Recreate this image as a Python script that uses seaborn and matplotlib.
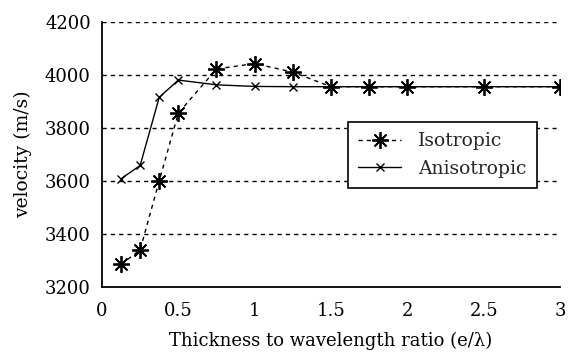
import matplotlib
matplotlib.use("Agg")
import matplotlib.pyplot as plt
import seaborn as sns
import pandas as pd

ratio = [0.125, 0.25, 0.375, 0.5, 0.75, 1.0, 1.25, 1.5, 1.75, 2.0, 2.5, 3.0]
isotropic = [3285, 3340, 3600, 3855, 4022, 4042, 4010, 3955, 3955, 3955, 3955, 3955]
anisotropic = [3608, 3658, 3915, 3980, 3962, 3956, 3955, 3955, 3955, 3955, 3955, 3955]
xticks = [0, 0.5, 1, 1.5, 2, 2.5, 3]
xticklabels = ["0", "0.5", "1", "1.5", "2", "2.5", "3"]
yticks = [3200, 3400, 3600, 3800, 4000, 4200]

sns.set_theme(style="white")
plt.rcParams['font.family'] = ['DejaVu Serif', 'Liberation Serif']

df = pd.DataFrame({"ratio": ratio + ratio,
                   "velocity": isotropic + anisotropic,
                   "series": ["Isotropic"] * len(ratio) + ["Anisotropic"] * len(ratio)})

fig = plt.figure(figsize=(5.71, 3.54), dpi=100)
ax = fig.add_axes([0.1786, 0.1893, 0.8021, 0.7494])

sns.lineplot(data=df[df.series == "Isotropic"], x="ratio", y="velocity", ax=ax,
             color="black", linewidth=1.0, linestyle=(0, (3, 3)),
             marker=(8, 2, 0), markersize=12, markeredgewidth=1.3,
             markeredgecolor="black", label="Isotropic")
sns.lineplot(data=df[df.series == "Anisotropic"], x="ratio", y="velocity", ax=ax,
             color="black", linewidth=1.0, linestyle="-",
             marker="x", markersize=6, markeredgewidth=1.0,
             markeredgecolor="black", label="Anisotropic")

ax.set_xlim(0, 3)
ax.set_ylim(3200, 4200)
ax.set_xticks(xticks)
ax.set_xticklabels(xticklabels)
ax.set_yticks(yticks)
for y in yticks[1:]:
    ax.axhline(y, color="black", linestyle=(0, (3, 3)), linewidth=1.0, zorder=0)

for s in ["top", "right"]:
    ax.spines[s].set_visible(False)
for s in ["left", "bottom"]:
    ax.spines[s].set_color("black")
    ax.spines[s].set_linewidth(1.3)
ax.tick_params(direction="in", length=5, width=1.2, colors="black",
               labelsize=13, pad=8)
ax.tick_params(axis="x", pad=11)

ax.set_xlabel("Thickness to wavelength ratio (e/λ)", fontsize=13,
              color="black", labelpad=8)
ax.set_ylabel("velocity (m/s)", fontsize=13.5, color="black", labelpad=9)

leg = ax.legend(loc="upper left", bbox_to_anchor=(0.6095, 0.6554),
                bbox_transform=fig.transFigure, borderaxespad=0, fontsize=13.5,
                frameon=True, fancybox=False, edgecolor="black",
                handlelength=2.3, handletextpad=0.9, borderpad=0.55,
                labelspacing=0.5)
leg.get_frame().set_linewidth(1.2)
leg.get_frame().set_alpha(1)

fig.savefig("out.png", dpi=100)
